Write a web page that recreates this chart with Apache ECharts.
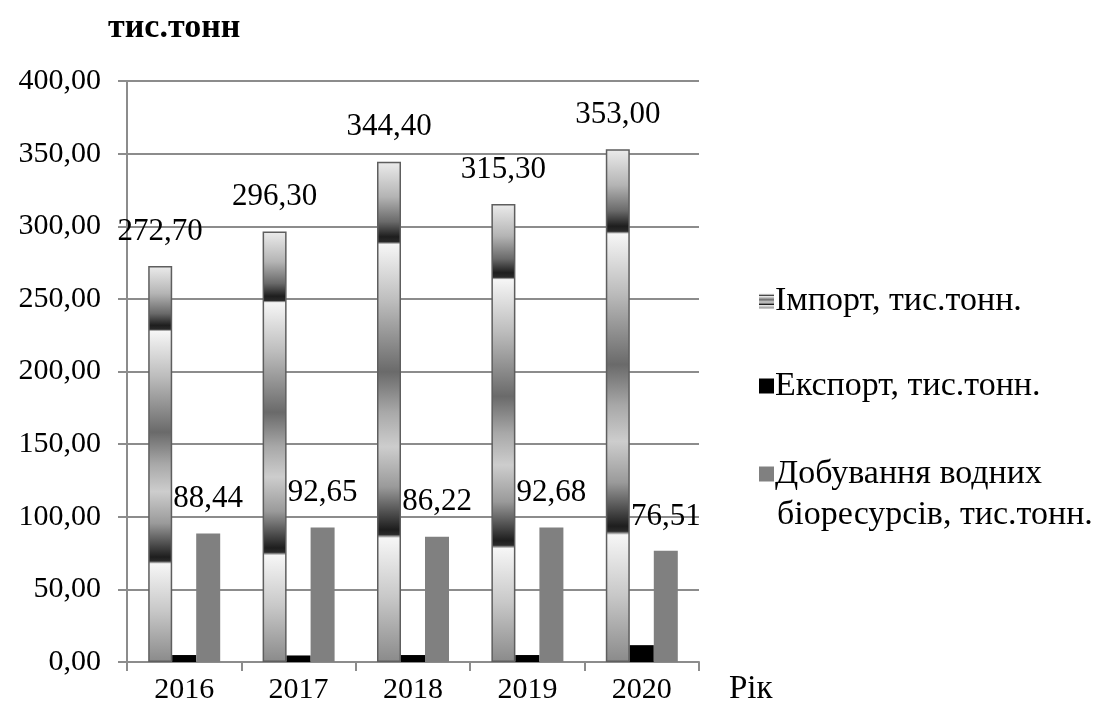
<!DOCTYPE html>
<html>
<head>
<meta charset="utf-8">
<script src="https://cdn.jsdelivr.net/npm/echarts@6/dist/echarts.min.js"></script>
<style>
html,body{margin:0;padding:0;background:#fff;}
#chart{width:1113px;height:713px;}
</style>
</head>
<body>
<div id="chart"></div>
<script>
const years = ['2016', '2017', '2018', '2019', '2020'];
const importVals = [272.70, 296.30, 344.40, 315.30, 353.00];
const exportVals = [4.8, 4.5, 4.8, 4.8, 11.6];
const productionVals = [88.44, 92.65, 86.22, 92.68, 76.51];
const seriesNames = ['Імпорт, тис.тонн.', 'Експорт, тис.тонн.', 'Добування водних біоресурсів, тис.тонн.'];
const yTicks = [0, 50, 100, 150, 200, 250, 300, 350, 400];

const FONT = '"Liberation Serif", "DejaVu Serif", serif';
const fmt = v => Number(v).toFixed(2).replace('.', ',');

const importGradient = new echarts.graphic.LinearGradient(0, 0, 0, 1, [
  {offset: 0.00, color: '#ececec'},
  {offset: 0.07, color: '#b4b4b4'},
  {offset: 0.12, color: '#6a6a6a'},
  {offset: 0.150, color: '#1e1e1e'},
  {offset: 0.160, color: '#2a2a2a'},
  {offset: 0.165, color: '#f6f6f6'},
  {offset: 0.28, color: '#bcbcbc'},
  {offset: 0.42, color: '#6a6a6a'},
  {offset: 0.50, color: '#a8a8a8'},
  {offset: 0.57, color: '#cdcdcd'},
  {offset: 0.65, color: '#9a9a9a'},
  {offset: 0.735, color: '#1e1e1e'},
  {offset: 0.745, color: '#2a2a2a'},
  {offset: 0.752, color: '#f6f6f6'},
  {offset: 0.87, color: '#c8c8c8'},
  {offset: 1.00, color: '#8a8a8a'}
]);

const legendText = {fontFamily: FONT, fontSize: 34, color: '#000', lineHeight: 36, padding: [0, 0, 0, -4]};
function legendFor(name, top, label) {
  return {
    orient: 'vertical',
    left: 754,
    top: top,
    itemWidth: 15,
    itemHeight: 15,
    icon: 'rect',
    selectedMode: false,
    data: [{name: name, itemStyle: {borderWidth: 0}}],
    formatter: () => label,
    textStyle: legendText
  };
}

const chart = echarts.init(document.getElementById('chart'), null, {renderer: 'canvas'});
chart.setOption({
  backgroundColor: '#ffffff',
  animation: false,
  title: {
    text: 'тис.тонн',
    left: 103,
    top: 6,
    textStyle: {fontFamily: FONT, fontSize: 34, fontWeight: 'bold', color: '#000'}
  },
  grid: {left: 127, right: 414, top: 81, bottom: 51, containLabel: false},
  legend: [
    legendFor(seriesNames[0], 278, seriesNames[0]),
    legendFor(seriesNames[1], 363, seriesNames[1]),
    legendFor(seriesNames[2], 451, 'Добування водних')
  ],
  graphic: [{
    type: 'text',
    x: 777,
    y: 515,
    style: {text: 'біоресурсів, тис.тонн.', font: '34px ' + FONT, fill: '#000', verticalAlign: 'middle', align: 'left'}
  }],
  xAxis: {
    type: 'category',
    data: years,
    name: 'Рік',
    nameLocation: 'end',
    nameGap: 30,
    nameTextStyle: {fontFamily: FONT, fontSize: 33, color: '#000', verticalAlign: 'top', padding: [11, 0, 0, 0]},
    axisLine: {lineStyle: {color: '#8c8c8c', width: 2}},
    axisTick: {show: true, length: 9, alignWithLabel: false, lineStyle: {color: '#8c8c8c', width: 2}},
    axisLabel: {fontFamily: FONT, fontSize: 30, color: '#000', margin: 13}
  },
  yAxis: {
    type: 'value',
    min: yTicks[0],
    max: yTicks[yTicks.length - 1],
    interval: 50,
    axisLine: {show: true, lineStyle: {color: '#8c8c8c', width: 2}},
    axisTick: {show: true, length: 9, lineStyle: {color: '#8c8c8c', width: 2}},
    splitLine: {show: true, lineStyle: {color: '#8c8c8c', width: 2}},
    axisLabel: {fontFamily: FONT, fontSize: 30, color: '#000', margin: 26, formatter: v => fmt(v)}
  },
  series: [
    {
      name: seriesNames[0],
      type: 'bar',
      data: importVals,
      barWidth: 24,
      barGap: '0%',
      itemStyle: {color: importGradient, borderColor: '#5e5e5e', borderWidth: 1.5},
      label: {
        show: true, position: 'top', distance: 19,
        fontFamily: FONT, fontSize: 31, color: '#000',
        formatter: p => fmt(p.value)
      }
    },
    {
      name: seriesNames[1],
      type: 'bar',
      data: exportVals,
      barWidth: 24,
      barGap: '0%',
      itemStyle: {color: '#000000'}
    },
    {
      name: seriesNames[2],
      type: 'bar',
      data: productionVals,
      barWidth: 24,
      barGap: '0%',
      itemStyle: {color: '#808080'},
      label: {
        show: true, position: 'top', distance: 19,
        fontFamily: FONT, fontSize: 31, color: '#000',
        formatter: p => fmt(p.value)
      }
    }
  ]
});
</script>
</body>
</html>
